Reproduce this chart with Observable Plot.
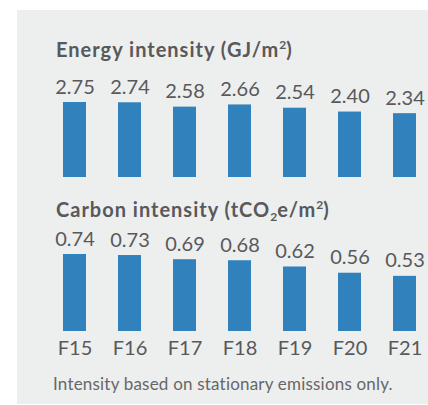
<!DOCTYPE html>
<html>
<head>
<meta charset="utf-8">
<script src="https://cdn.jsdelivr.net/npm/d3@7"></script>
<script src="https://cdn.jsdelivr.net/npm/@observablehq/plot@0.6"></script>
<style>
  body { margin: 0; background: #ffffff; font-family: Lato, "Open Sans", sans-serif; color: #58595b; }
  #panel { position: absolute; left: 17px; top: 10px; width: 411px; height: 394px; background: #edeeee; }
  .title { position: absolute; left: 56px; font-weight: 700; font-size: 20px; line-height: 20px; letter-spacing: 1px; white-space: nowrap; color: #58595b; }
  .sup { font-size: 12px; position: relative; top: -8px; letter-spacing: 0; }
  .sub { font-size: 12px; position: relative; top: 4px; letter-spacing: 0; }
  .chart { position: absolute; left: 0; }
  #foot { position: absolute; left: 53px; top: 375px; font-size: 17px; line-height: 17px; letter-spacing: 0.2px; white-space: nowrap; color: #666768; }
</style>
</head>
<body>
<div id="panel"></div>
<div class="title" style="top:39px">Energy intensity (GJ/m<span class="sup">2</span>)</div>
<div class="chart" id="c1" style="top:70px"></div>
<div class="title" style="top:199px">Carbon intensity (tCO<span class="sub">2</span>e/m<span class="sup">2</span>)</div>
<div class="chart" id="c2" style="top:225px"></div>
<div id="foot">Intensity based on stationary emissions only.</div>
<script>
const years = ["F15", "F16", "F17", "F18", "F19", "F20", "F21"];
const energyIntensity = [2.75, 2.74, 2.58, 2.66, 2.54, 2.40, 2.34];
const carbonIntensity = [0.74, 0.73, 0.69, 0.68, 0.62, 0.56, 0.53];
const energyLabels = ["2.75", "2.74", "2.58", "2.66", "2.54", "2.40", "2.34"];
const carbonLabels = ["0.74", "0.73", "0.69", "0.68", "0.62", "0.56", "0.53"];

const barColor = "#3081bc";
const textColor = "#58595b";

function makeChart(values, labels, opts) {
  const data = years.map((y, i) => ({year: y, value: values[i], label: labels[i]}));
  const marks = [
    Plot.barY(data, {x: "year", y: "value", fill: barColor}),
    Plot.text(data, {x: "year", y: "value", text: "label", dy: -9, lineAnchor: "bottom", fontSize: 20, fill: textColor})
  ];
  if (opts.axis) {
    marks.push(Plot.axisX({tickSize: 0, tickPadding: 9, fontSize: 20, fill: textColor, label: null}));
  }
  return Plot.plot({
    width: 428,
    height: opts.height,
    marginLeft: 55,
    marginRight: 4,
    marginTop: opts.marginTop,
    marginBottom: opts.marginBottom,
    style: {background: "transparent", color: textColor, fontFamily: "Lato, 'Open Sans', sans-serif", overflow: "visible"},
    x: {domain: years, paddingInner: 0.587, paddingOuter: 0.1, axis: null, label: null},
    y: {domain: [0, d3.max(values)], axis: null},
    marks
  });
}

document.getElementById("c1").append(makeChart(energyIntensity, energyLabels, {height: 110, marginTop: 32, marginBottom: 3, axis: false}));
document.getElementById("c2").append(makeChart(carbonIntensity, carbonLabels, {height: 140, marginTop: 29, marginBottom: 34, axis: true}));
</script>
</body>
</html>
